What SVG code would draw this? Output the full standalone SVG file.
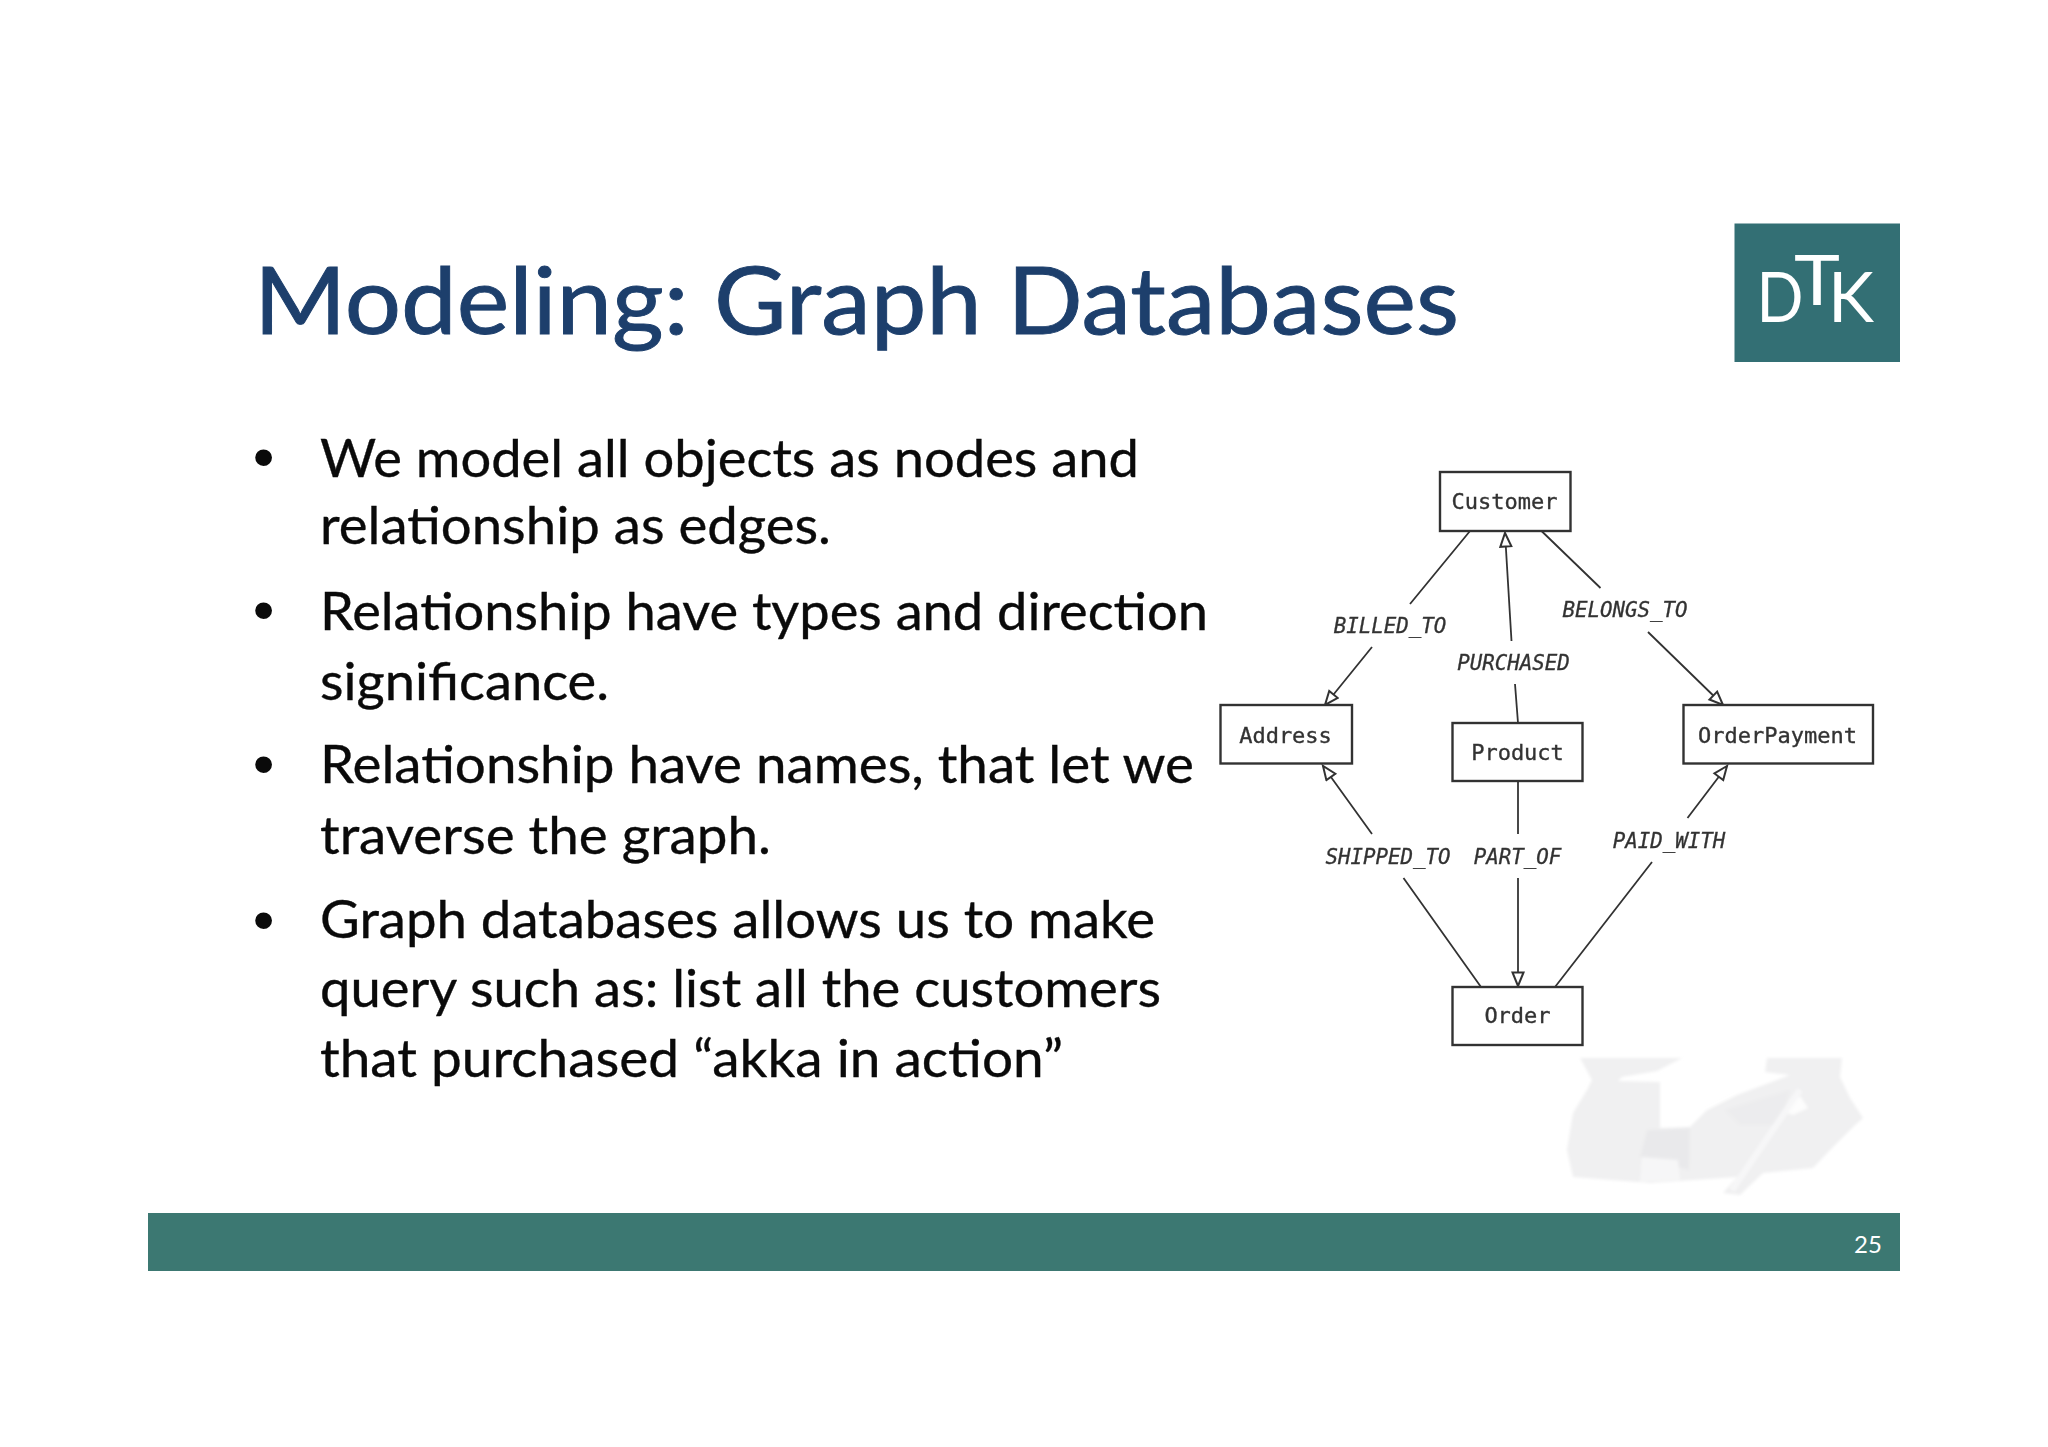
<svg xmlns="http://www.w3.org/2000/svg" width="2048" height="1447" viewBox="0 0 2048 1447">
<style>
.title{font-family:Lato,"Open Sans",sans-serif;font-size:94px;fill:#1d3f6c;stroke:#1d3f6c;stroke-width:.9}
.body{font-family:Lato,"Open Sans",sans-serif;font-size:52px;fill:#0a0a0a;stroke:#0a0a0a;stroke-width:.35}
.bullet{font-family:"Liberation Sans",sans-serif;font-size:62px;fill:#0a0a0a;text-anchor:middle}
.box{fill:#fff;stroke:#333;stroke-width:2.4}
.nl{font-family:"DejaVu Sans Mono",monospace;font-size:22px;fill:#333;stroke:#333;stroke-width:.35;text-anchor:middle}
.el{font-family:"DejaVu Sans Mono",monospace;font-style:italic;font-size:20.8px;fill:#333;stroke:#333;stroke-width:.3;text-anchor:middle}
.edge{fill:none;stroke:#333;stroke-width:1.8;marker-end:url(#hollow)}
.logo{font-family:Lato,"Liberation Sans",sans-serif;font-size:70px;fill:#fff;text-anchor:middle}
</style>
<defs>
<marker id="hollow" markerUnits="userSpaceOnUse" markerWidth="18" markerHeight="16" refX="15" refY="7" orient="auto">
<path d="M1.500 1.500L15 7L1.500 12.500Z" fill="#fff" stroke="#333" stroke-width="2"/>
</marker>
<filter id="soft" x="-5%" y="-5%" width="110%" height="110%"><feGaussianBlur stdDeviation="0.5"/></filter>
<filter id="wm" x="-5%" y="-5%" width="110%" height="110%"><feGaussianBlur stdDeviation="1.6"/></filter>
</defs>
<rect width="2048" height="1447" fill="#fff"/>
<g id="watermark" filter="url(#wm)">
<path d="M1580 1058L1682 1058L1657 1071L1622 1077L1618 1081L1660 1082L1660 1128L1690 1127L1707 1110L1737 1095L1790 1075L1765 1072L1767 1058L1842 1058L1840 1077L1850 1098L1863 1118L1852 1128L1833 1147L1813 1168L1763 1173L1740 1195L1723 1193L1737 1177L1650 1183L1573 1177L1567 1150L1573 1113L1587 1090L1592 1080Z" fill="#f0f0f1"/>
<path d="M1647 1130L1690 1128L1689 1170L1640 1157Z" fill="#e9e9eb"/>
<path d="M1642 1157L1678 1160L1680 1180L1640 1182Z" fill="#f6f6f7"/>
<path d="M1725 1110L1790 1090L1780 1125L1740 1125Z" fill="#ececee"/>
<path d="M1785 1112L1800 1096L1808 1108L1793 1115Z" fill="#fdfdfd"/>
<path d="M1800 1090L1732 1190" stroke="#f7f7f8" stroke-width="6" fill="none"/>
</g>
<g id="title"><text class="title" x="254" y="334" textLength="1205" lengthAdjust="spacingAndGlyphs">Modeling: Graph Databases</text></g>
<g id="logo">
<rect x="1734.500" y="223.500" width="165.500" height="138.500" fill="#336f74"/>
<text class="logo" x="1780" y="322" textLength="47" lengthAdjust="spacingAndGlyphs">D</text>
<text class="logo" x="1817" y="305" textLength="46" lengthAdjust="spacingAndGlyphs">T</text>
<text class="logo" x="1851" y="322" textLength="46" lengthAdjust="spacingAndGlyphs">K</text>
</g>
<g id="bullets">
<text class="bullet" x="263.500" y="478">•</text>
<text class="bullet" x="263.500" y="631">•</text>
<text class="bullet" x="263.500" y="785">•</text>
<text class="bullet" x="263.500" y="941">•</text>
<text class="body" x="320" y="477" textLength="819" lengthAdjust="spacingAndGlyphs">We model all objects as nodes and</text>
<text class="body" x="320" y="544" textLength="511" lengthAdjust="spacingAndGlyphs">relationship as edges.</text>
<text class="body" x="320" y="630" textLength="888" lengthAdjust="spacingAndGlyphs">Relationship have types and direction</text>
<text class="body" x="320" y="700" textLength="289" lengthAdjust="spacingAndGlyphs">significance.</text>
<text class="body" x="320" y="783" textLength="874" lengthAdjust="spacingAndGlyphs">Relationship have names, that let we</text>
<text class="body" x="320" y="854" textLength="451" lengthAdjust="spacingAndGlyphs">traverse the graph.</text>
<text class="body" x="320" y="938" textLength="835" lengthAdjust="spacingAndGlyphs">Graph databases allows us to make</text>
<text class="body" x="320" y="1007" textLength="841" lengthAdjust="spacingAndGlyphs">query such as: list all the customers</text>
<text class="body" x="320" y="1077" textLength="743" lengthAdjust="spacingAndGlyphs">that purchased “akka in action”</text>
</g>
<g filter="url(#soft)">
<g id="connectors">
<path class="edge" d="M1470 531L1410 604M1372 647L1325 705"/>
<path class="edge" d="M1518 723L1515 684M1511.500 641L1505 533"/>
<path class="edge" d="M1541.500 531L1600.500 588M1648 632L1723 705"/>
<path class="edge" d="M1481 987L1403.500 878M1372 834L1323 766"/>
<path class="edge" d="M1518 781L1518 834M1518 878L1518 986"/>
<path class="edge" d="M1555 987L1652 862M1687.500 818L1727 766"/>
<text class="el" x="1390" y="633">BILLED_TO</text>
<text class="el" x="1513.500" y="670">PURCHASED</text>
<text class="el" x="1625" y="617">BELONGS_TO</text>
<text class="el" x="1388" y="863.500">SHIPPED_TO</text>
<text class="el" x="1517.500" y="863.500">PART_OF</text>
<text class="el" x="1669" y="847.500">PAID_WITH</text>
</g>
<g id="customer"><rect class="box" x="1440" y="472" width="130.500" height="59"/><text class="nl" x="1504.500" y="509">Customer</text></g>
<g id="address"><rect class="box" x="1220.500" y="705" width="131.500" height="58.500"/><text class="nl" x="1285.500" y="742.500">Address</text></g>
<g id="product"><rect class="box" x="1452.500" y="723" width="130" height="58"/><text class="nl" x="1517.500" y="759.500">Product</text></g>
<g id="orderpayment"><rect class="box" x="1683.500" y="705" width="189.500" height="58.500"/><text class="nl" x="1777.500" y="742.500">OrderPayment</text></g>
<g id="order"><rect class="box" x="1452.500" y="987" width="130" height="58"/><text class="nl" x="1517.500" y="1023">Order</text></g>
</g>
<g id="footer">
<rect x="148" y="1213" width="1752" height="58" fill="#3c7872"/>
<text x="1854" y="1253" font-family="Lato,sans-serif" font-size="24" fill="#fff">25</text>
</g>
</svg>
